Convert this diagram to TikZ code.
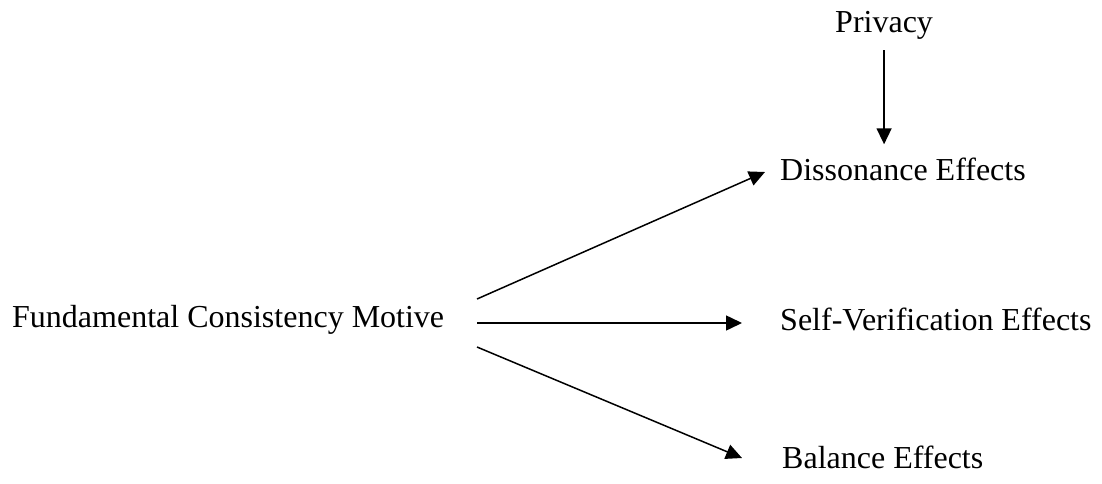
\documentclass[tikz,border=0pt]{standalone}
\usepackage{fontspec}
\setmainfont{Liberation Serif}
\usetikzlibrary{arrows,arrows.meta}
\usetikzlibrary{calc}

\begin{document}
\begin{tikzpicture}[x=1pt, y=1pt,
    lbl/.style={inner sep=0pt, anchor=base west, font=\fontsize{32}{38}\selectfont},
    conn/.style={line width=1.5pt, -{Triangle[length=16pt, width=15pt]}}]

    \useasboundingbox (0,0) rectangle (1102,483);

    \node[lbl] (fcm) at (12,156) {Fundamental Consistency Motive};
    \node[lbl] (priv) at (835,450) {Privacy};
    \node[lbl] (diss) at (780,303) {Dissonance Effects};
    \node[lbl] (selfver) at (780,153) {Self-Verification Effects};
    \node[lbl] (bal) at (782,15) {Balance Effects};

    \coordinate (out1) at (477,184);
    \coordinate (out2) at (477,160);
    \coordinate (out3) at (477,136);
    \coordinate (in1) at ($(diss.base west)+(-15,8)$);
    \coordinate (in3) at ($(bal.base west)+(-40,10)$);

    \draw[conn] (out1) -- (in1);
    \draw[conn, shorten >=38pt] (out2) -- (out2 -| selfver.west);
    \draw[conn] (out3) -- (in3);

    \draw[conn, shorten <=10pt, shorten >=13pt] (priv.south) -- (priv.south |- diss.north);

\end{tikzpicture}
\end{document}
